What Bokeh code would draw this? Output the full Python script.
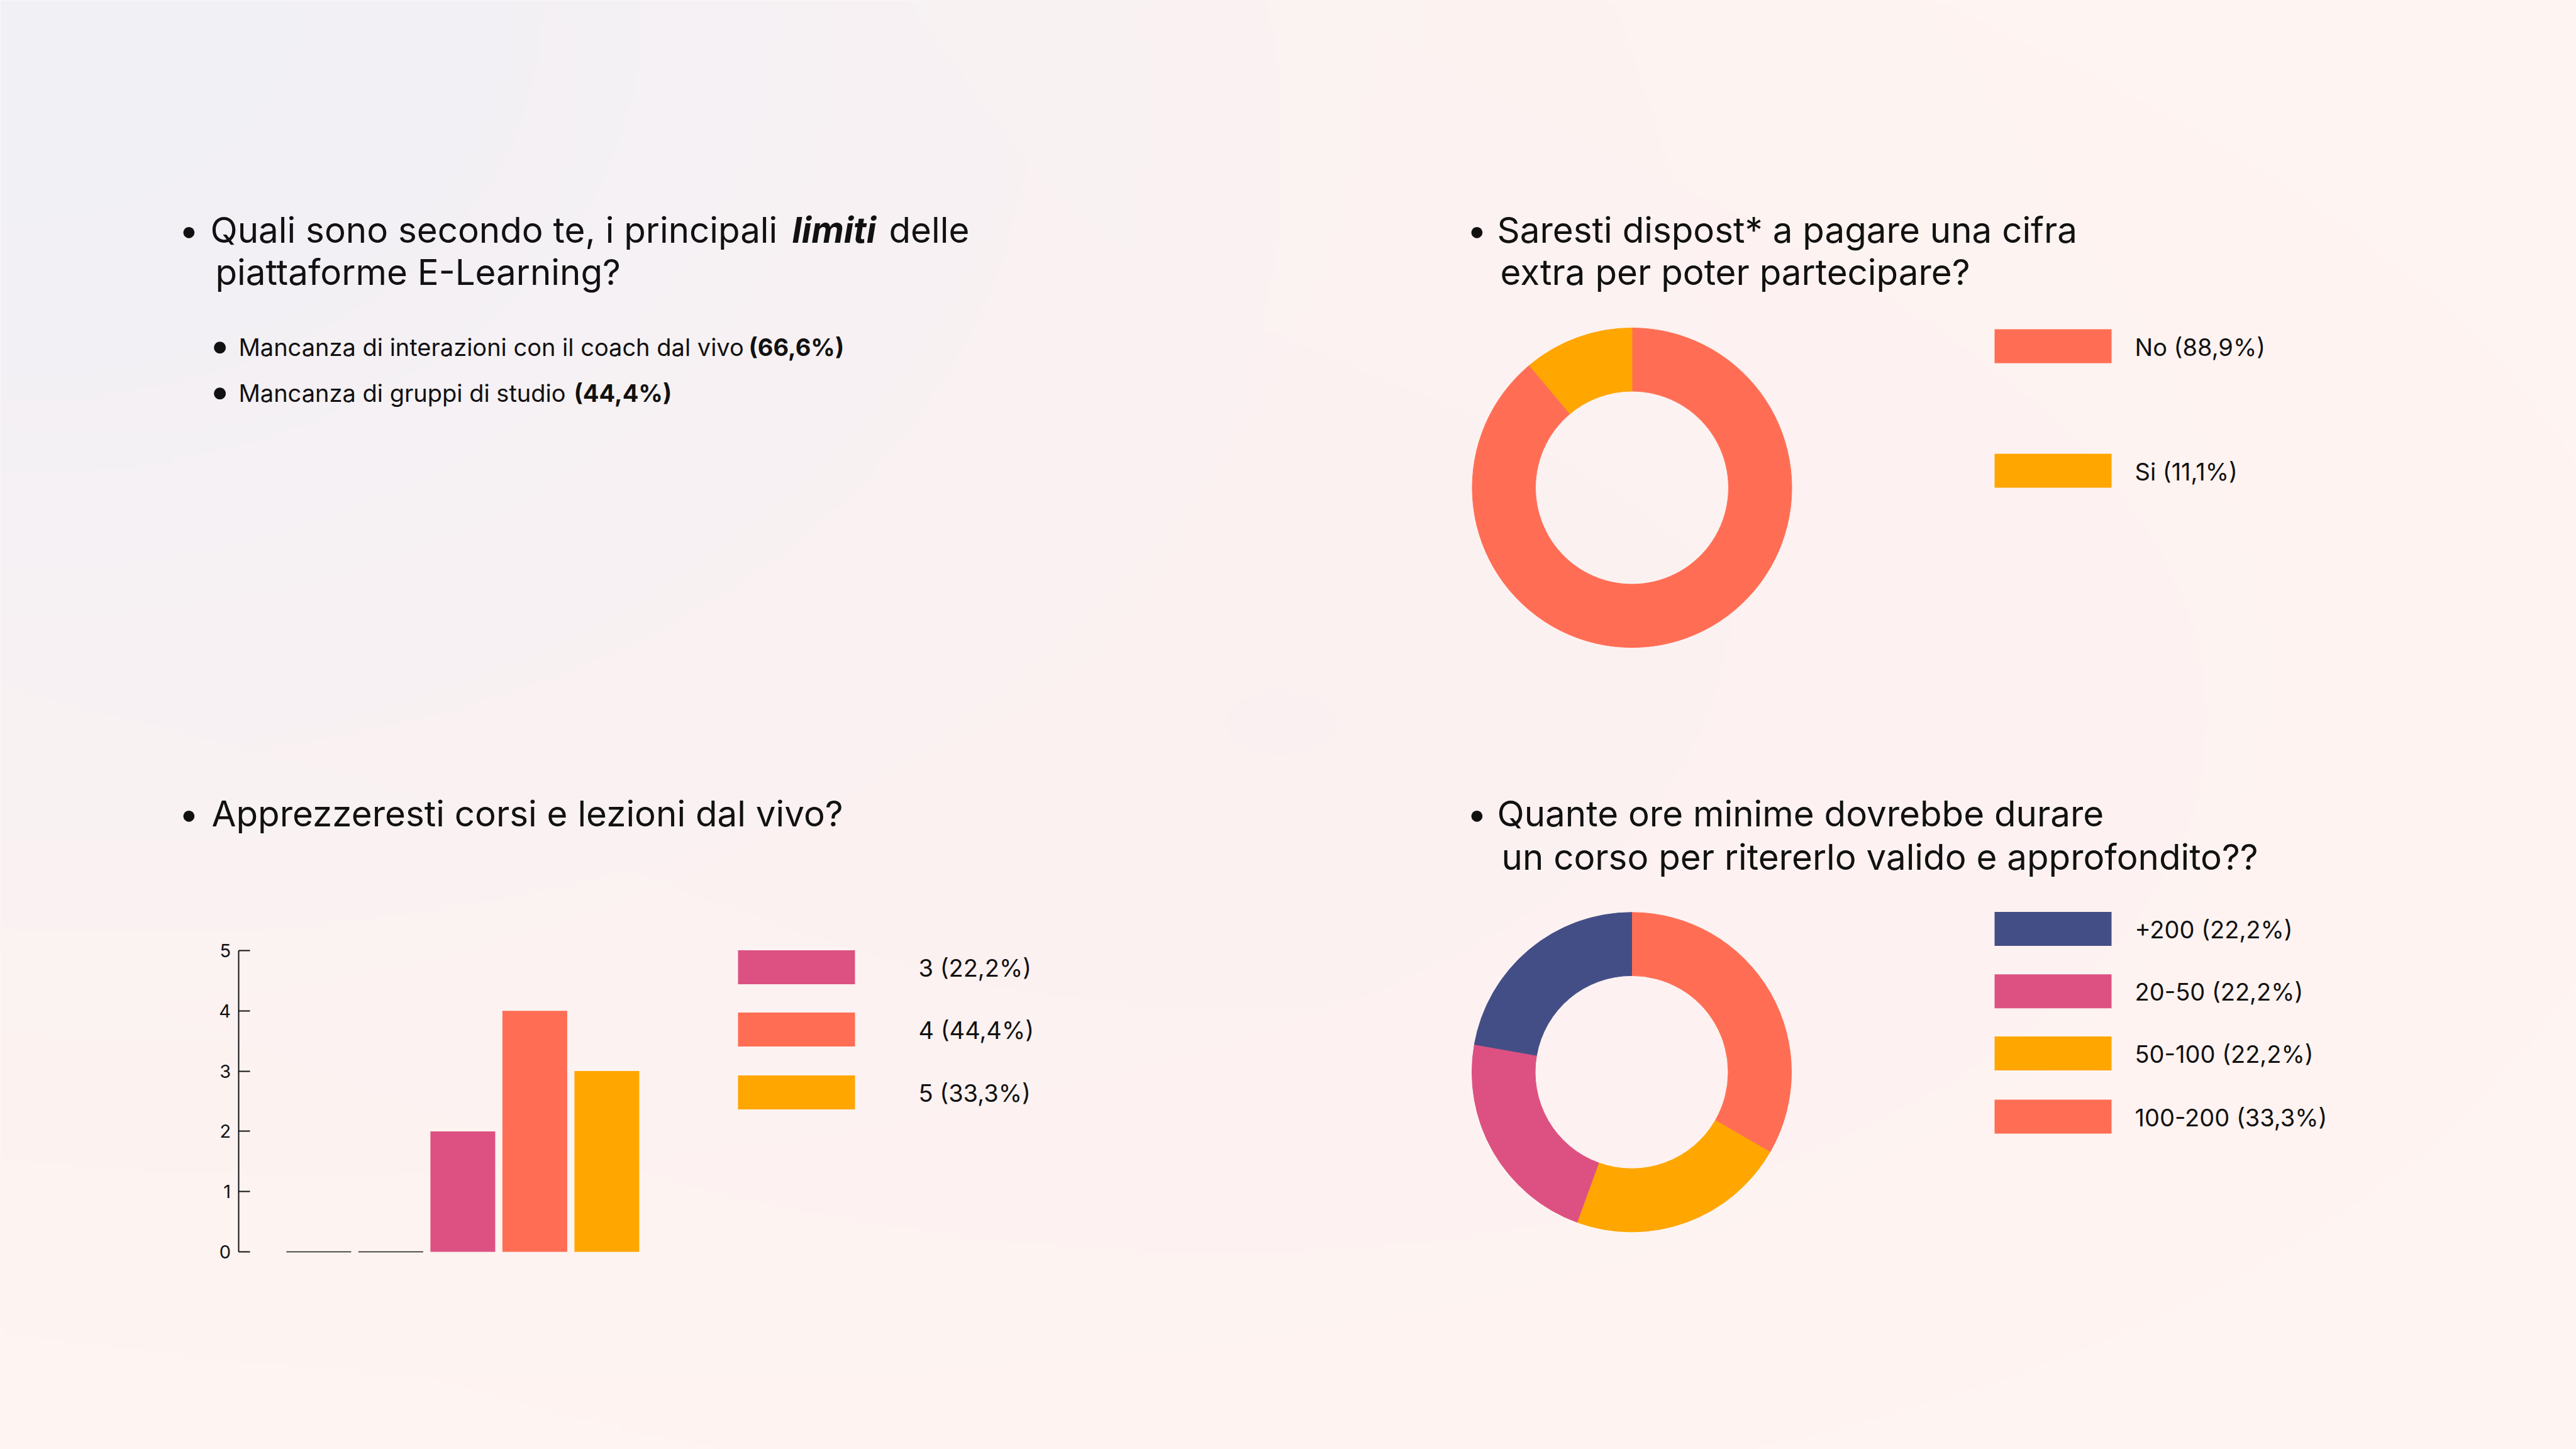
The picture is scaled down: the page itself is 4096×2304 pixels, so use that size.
import numpy as np
from bokeh.plotting import figure
from bokeh.models import Range1d, LinearAxis, FixedTicker
from bokeh.embed import file_html
from bokeh.resources import INLINE
from bokeh.core.properties import value

# ---------------- data ----------------
limiti_items = ["Mancanza di interazioni con il coach dal vivo", "Mancanza di gruppi di studio"]
limiti_pct = [66.6, 44.4]

extra_labels = ["No", "Si"]
extra_counts = [8, 1]
extra_colors = ["#ff6e54", "#ffa600"]

rating_cats = [1, 2, 3, 4, 5]
rating_counts = [0, 0, 2, 4, 3]
rating_colors = ["#003f5c", "#444e86", "#dd5182", "#ff6e54", "#ffa600"]
rating_ticks = [0, 1, 2, 3, 4, 5]

hours_labels = ["+200", "20-50", "50-100", "100-200"]
hours_counts = [2, 2, 2, 3]
hours_colors = ["#444e86", "#dd5182", "#ffa600", "#ff6e54"]
hours_clockwise = ["100-200", "50-100", "20-50", "+200"]

# ---------------- canvas ----------------
W, H = 4096, 2304
FONT = value("Inter")
INK = "#111111"

def Y(t):
    return H - t

p = figure(width=W, height=H, x_range=Range1d(0, W), y_range=Range1d(0, H),
           output_backend="svg", toolbar_location=None, min_border=0,
           x_axis_location=None, y_axis_location=None)
p.xgrid.visible = False
p.ygrid.visible = False
p.outline_line_color = None
p.background_fill_color = "#fdf2f1"
p.border_fill_color = "#fdf2f1"

# background gradient
nx, ny = 512, 288
u = np.linspace(0, 1, nx)[None, :]
v = np.linspace(1, 0, ny)[:, None]  # v: 0 at top
lav = np.array([241, 240, 246], float)
pink = np.array([253, 241, 241], float)
peach = np.array([255, 245, 241], float)
d = np.clip(np.sqrt(((u - 0.5) / 0.5) ** 2 + ((v - 0.5) / 0.5) ** 2) / np.sqrt(2), 0, 1)
w = np.exp(-((u / 0.42) ** 2 + (v / 0.55) ** 2))
rgb = np.zeros((ny, nx, 3))
for k in range(3):
    base = pink[k] * (1 - d) + peach[k] * d
    rgb[:, :, k] = base * (1 - w) + lav[k] * w
img = np.zeros((ny, nx), dtype=np.uint32)
view = img.view(dtype=np.uint8).reshape((ny, nx, 4))
view[:, :, 0] = rgb[:, :, 0].astype(np.uint8)
view[:, :, 1] = rgb[:, :, 1].astype(np.uint8)
view[:, :, 2] = rgb[:, :, 2].astype(np.uint8)
view[:, :, 3] = 255
p.image_rgba(image=[img], x=0, y=0, dw=W, dh=H)

def txt(x, y, s, size, style="normal", align="left", font=FONT, color=INK):
    p.text(x=[x], y=[Y(y)], text=[s], text_font=font, text_font_size=f"{size}px",
           text_font_style=style, text_align=align, text_baseline="alphabetic",
           text_color=color)

def pct(x):
    return f"{x:.1f}".replace(".", ",")

TS = 56.5  # title size
SS = 38    # small size

# ---------------- panel 1: titles ----------------
txt(300, 365, "•", TS, align="center")
txt(334, 365, "Quali sono secondo te, i principali", TS)
txt(1259, 365, "limiti", TS, style="bold italic")
txt(1413, 365, "delle", TS)
txt(342, 432, "piattaforme E-Learning?", TS)

sub_y = [551, 624]
sub_pct_x = [1190, 912]
for i, item in enumerate(limiti_items):
    txt(349, sub_y[i] - 4, "•", 60, align="center")
    txt(379, sub_y[i], item, SS)
    txt(sub_pct_x[i], sub_y[i], f"({pct(limiti_pct[i])}%)", SS, style="bold")

# ---------------- donut helper ----------------
def donut(cx, cy, counts, colors):
    tot = float(sum(counts))
    cum = np.cumsum([0] + list(counts)) / tot
    starts = [np.pi / 2 - 2 * np.pi * cum[i + 1] for i in range(len(counts))]
    ends = [np.pi / 2 - 2 * np.pi * cum[i] for i in range(len(counts))]
    p.annular_wedge(x=[cx] * len(counts), y=[Y(cy)] * len(counts),
                    inner_radius=153.5, outer_radius=254,
                    start_angle=starts, end_angle=ends,
                    fill_color=colors, line_color=colors, line_width=1)

def legend(x_sw, x_lab, centers, labels, colors):
    for c, lab, col in zip(centers, labels, colors):
        p.quad(left=[x_sw], right=[x_sw + 186], top=[Y(c - 27)], bottom=[Y(c + 27)],
               fill_color=col, line_color=None)
        txt(x_lab, c + 1, lab, SS)

# ---------------- panel 2 ----------------
txt(2348, 365, "•", TS, align="center")
txt(2380, 365, "Saresti dispost* a pagare una cifra", TS)
txt(2385, 432, "extra per poter partecipare?", TS)
donut(2594.5, 775, extra_counts, extra_colors)
tot_e = sum(extra_counts)
legend(3171, 3394, [550, 748],
       [f"{l} ({pct(100 * c / tot_e)}%)" for l, c in zip(extra_labels, extra_counts)],
       extra_colors)

# ---------------- panel 3: bars ----------------
txt(300, 1293, "•", TS, align="center")
txt(336, 1293, "Apprezzeresti corsi e lezioni dal vivo?", TS)

cat1_px, step_px = 506.4, 114.5
zero_px, unit_px = 1990.0, 95.8
bx0 = 1 - cat1_px / step_px
by0 = -(H - zero_px) / unit_px
p.extra_x_ranges = {"bx": Range1d(bx0, bx0 + W / step_px)}
p.extra_y_ranges = {"by": Range1d(by0, by0 + H / unit_px)}
bw = 0.9
p.vbar(x=rating_cats, top=rating_counts, bottom=0, width=bw, fill_color=rating_colors,
       line_color=None, x_range_name="bx", y_range_name="by")
zc = [c for c, n in zip(rating_cats, rating_counts) if n == 0]
zn = [n for n in rating_counts if n == 0]
p.segment(x0=[c - bw / 2 for c in zc], x1=[c + bw / 2 for c in zc], y0=zn, y1=zn,
          line_color="#1a1a1a", line_width=1.5, x_range_name="bx", y_range_name="by")

axis_px = 378.6
ax = LinearAxis(x_range_name="bx", y_range_name="by",
                fixed_location=1 + (axis_px - cat1_px) / step_px,
                bounds=(min(rating_ticks), max(rating_ticks)),
                ticker=FixedTicker(ticks=rating_ticks))
ax.major_tick_in = 18
ax.major_tick_out = 0
ax.minor_tick_in = 0
ax.minor_tick_out = 0
ax.axis_line_width = 2
ax.axis_line_color = INK
ax.major_tick_line_width = 2
ax.major_tick_line_color = INK
ax.major_label_text_font = "Inter"
ax.major_label_text_font_size = "29px"
ax.major_label_text_color = INK
ax.major_label_standoff = 12
p.add_layout(ax, "left")

tot_r = sum(rating_counts)
leg_r = [(c, n, col) for c, n, col in zip(rating_cats, rating_counts, rating_colors) if n > 0]
legend(1173, 1460, [1537.5, 1636.6, 1736.5],
       [f"{c} ({pct(100 * n / tot_r)}%)" for c, n, _ in leg_r],
       [col for _, _, col in leg_r])

# ---------------- panel 4 ----------------
txt(2348, 1293, "•", TS, align="center")
txt(2380, 1293, "Quante ore minime dovrebbe durare", TS)
txt(2387, 1362, "un corso per ritererlo valido e approfondito??", TS)
idx = [hours_labels.index(h) for h in hours_clockwise]
donut(2594, 1704.3, [hours_counts[i] for i in idx], [hours_colors[i] for i in idx])
tot_h = sum(hours_counts)
legend(3171, 3394, [1476.6, 1575.8, 1674.6, 1775],
       [f"{l} ({pct(100 * c / tot_h)}%)" for l, c in zip(hours_labels, hours_counts)],
       hours_colors)

open("out.html", "w").write(file_html(p, INLINE))
